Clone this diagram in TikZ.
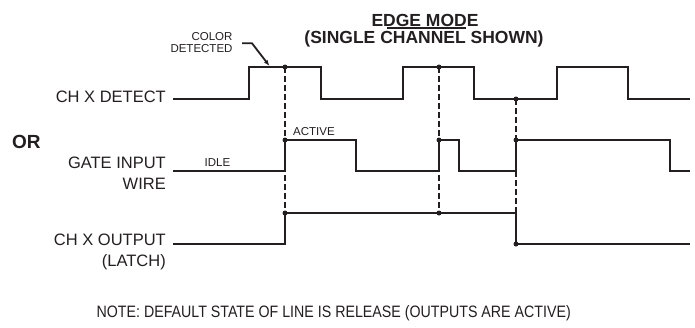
\documentclass[tikz,border=0pt]{standalone}
\usepackage{fontspec}
\usepackage{graphicx}
\setmainfont{Liberation Sans}
\usetikzlibrary{arrows.meta}
\definecolor{ink}{HTML}{231F20}
\begin{document}
\begin{tikzpicture}[x=1pt,y=-1pt,
  sig/.style={draw=ink,line width=2pt,line join=miter},
  guide/.style={draw=ink,line width=1.6pt,dash pattern=on 6pt off 3pt},
  lbl/.style={inner sep=0pt,text=ink,font=\fontsize{16.5}{21}\selectfont,align=right},
  small/.style={inner sep=0pt,text=ink,font=\fontsize{11.5}{11.6}\selectfont,align=right},
  ttl/.style={inner sep=0pt,text=ink,font=\bfseries\fontsize{17.5}{20}\selectfont},
  dot/.style={circle,fill=ink,inner sep=0pt,minimum size=5pt}]
\useasboundingbox (0,0) rectangle (695,327);
% labels
\node[lbl,anchor=east] (det) at (166,97) {CH X DETECT};
\node[lbl,anchor=east] (gate) at (166,173) {GATE INPUT\\WIRE};
\node[lbl,anchor=east] (outp) at (166,251.5) {CH X OUTPUT\\(LATCH)};
\node[ttl,font=\bfseries\fontsize{19}{20}\selectfont,anchor=west] (or) at (12,141.5) {OR};
\node[ttl] (t1) at (425,20) {EDGE MODE};
\node[ttl] (t2) at (424,39.3) {(SINGLE CHANNEL SHOWN)};
\coordinate (u1) at (387,27.8);
\coordinate (u2) at (466,27.8);
\draw[ink,line width=1.8pt] (u1) -- (u2);
\node[small] (cd) at (201.5,42.5) {COLOR\\DETECTED};
\node[small,anchor=center] (idle) at (217.5,162.7) {IDLE};
\node[small,anchor=west] (act) at (293,131.7) {ACTIVE};
\node[lbl,anchor=center] (note) at (333.7,313) {\scalebox{0.862}[1]{NOTE: DEFAULT STATE OF LINE IS RELEASE (OUTPUTS ARE ACTIVE)}};
% leader
\coordinate (l0) at (242,43.3);
\coordinate (l1) at (252,43.3);
\coordinate (l2) at (269.5,66);
\draw[ink,line width=1.8pt,-{Latex[length=6pt,width=4.5pt]}] (l0) -- (l1) -- (l2);
% guides
\draw[guide] (285,67) -- (285,213);
\draw[guide] (439,67) -- (439,213);
\draw[guide] (516,99) -- (516,244);
% detect
\draw[sig] (173,99) -- (249,99) -- (249,67) -- (321,67) -- (321,99) -- (403,99) -- (403,67) -- (474,67) -- (474,99) -- (557,99) -- (557,67) -- (628,67) -- (628,99) -- (690,99);
% gate
\draw[sig] (173,171) -- (285,171) -- (285,140) -- (356,140) -- (356,171) -- (439,171) -- (439,140) -- (459,140) -- (459,171) -- (516,171) -- (516,140) -- (670,140) -- (670,171) -- (690,171);
% output
\draw[sig] (173,244) -- (285,244) -- (285,213) -- (516,213) -- (516,244) -- (690,244);
% dots
\foreach \p [count=\i] in {(285,67),(285,140),(285,213),(439,67),(439,140),(439,213),(516,99),(516,140),(516,244)}
  \node[dot] (d\i) at \p {};
\end{tikzpicture}
\end{document}
